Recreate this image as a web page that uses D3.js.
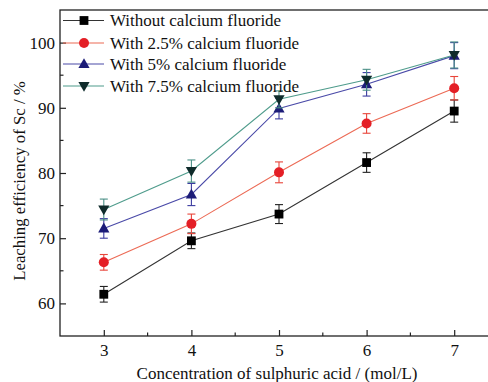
<!DOCTYPE html>
<html>
<head>
<meta charset="utf-8">
<script src="https://cdn.jsdelivr.net/npm/d3@7"></script>
<style>
  html, body { margin: 0; padding: 0; background: #fff; }
  svg { display: block; }
  svg text { font-family: 'Liberation Serif', 'Times New Roman', Times, 'DejaVu Serif', serif !important; }
</style>
</head>
<body>
<svg id="chart" width="488" height="382"></svg>
<script>
// Sulphuric acid concentration (mol/L)
const acid = [3, 4, 5, 6, 7];

// Leaching efficiency of Sc (%) and error half-widths for each CaF2 dosage
const noFluoride      = [61.4, 69.6, 73.7, 81.6, 89.5];
const noFluorideErr   = [1.2, 1.2, 1.45, 1.5, 1.7];
const fluoride25      = [66.3, 72.2, 80.1, 87.6, 93.0];
const fluoride25Err   = [1.2, 1.5, 1.6, 1.5, 1.8];
const fluoride5       = [71.5, 76.7, 89.9, 93.6, 98.0];
const fluoride5Err    = [1.5, 1.7, 1.6, 1.8, 2.0];
const fluoride75      = [74.4, 80.3, 91.3, 94.3, 98.1];
const fluoride75Err   = [1.6, 1.7, 1.3, 1.6, 2.0];

const seriesNames = [
  "Without calcium fluoride",
  "With 2.5% calcium fluoride",
  "With 5% calcium fluoride",
  "With 7.5% calcium fluoride"
];

const xTicks = [3, 4, 5, 6, 7];
const yTicks = [60, 70, 80, 90, 100];

const series = [
  { name: seriesNames[0], values: noFluoride, err: noFluorideErr, line: "#333333", marker: "#000000", errColor: "#222222", shape: "square" },
  { name: seriesNames[1], values: fluoride25, err: fluoride25Err, line: "#ec6a55", marker: "#e41f26", errColor: "#e8453a", shape: "circle" },
  { name: seriesNames[2], values: fluoride5, err: fluoride5Err, line: "#4a4aa8", marker: "#1c1c78", errColor: "#3c3ca0", shape: "triangle" },
  { name: seriesNames[3], values: fluoride75, err: fluoride75Err, line: "#4f9c8c", marker: "#0f2b2b", errColor: "#4a8f86", shape: "triangleDown" }
];

const margin = { left: 60, top: 10 };
const plotW = 438, plotH = 326;

const svg = d3.select("#chart");
const g = svg.append("g").attr("transform", `translate(${margin.left},${margin.top})`);

const x = d3.scaleLinear().domain([2.5, 7.5]).range([0, plotW]);
const y = d3.scaleLinear().domain([55, 105]).range([plotH, 0]);

// Frame
g.append("rect")
  .attr("x", 0).attr("y", 0).attr("width", plotW).attr("height", plotH)
  .attr("fill", "none").attr("stroke", "#222").attr("stroke-width", 1.3);

// Bottom axis: inward major ticks, minor ticks at half units
const xAxis = g.append("g").attr("transform", `translate(0,${plotH})`)
  .call(d3.axisBottom(x).tickValues(xTicks).tickFormat(d3.format("d")).tickSizeInner(-6).tickSizeOuter(0).tickPadding(8));
xAxis.select(".domain").remove();
xAxis.selectAll("line").attr("stroke", "#222").attr("stroke-width", 1.2);
xAxis.selectAll("text").attr("font-size", 17).attr("fill", "#111");
g.append("g").attr("transform", `translate(0,${plotH})`)
  .selectAll("line").data([3.5, 4.5, 5.5, 6.5]).join("line")
  .attr("x1", d => x(d)).attr("x2", d => x(d)).attr("y1", 0).attr("y2", -3.5)
  .attr("stroke", "#222").attr("stroke-width", 1.2);

// Left axis
const yAxis = g.append("g")
  .call(d3.axisLeft(y).tickValues(yTicks).tickFormat(d3.format("d")).tickSizeInner(-6).tickSizeOuter(0).tickPadding(5));
yAxis.select(".domain").remove();
yAxis.selectAll("line").attr("stroke", "#222").attr("stroke-width", 1.2);
yAxis.selectAll("text").attr("font-size", 17).attr("fill", "#111");
g.append("g")
  .selectAll("line").data([65, 75, 85, 95]).join("line")
  .attr("x1", 0).attr("x2", 3.5).attr("y1", d => y(d)).attr("y2", d => y(d))
  .attr("stroke", "#222").attr("stroke-width", 1.2);

// Axis titles
svg.append("text")
  .attr("x", 277).attr("y", 379)
  .attr("text-anchor", "middle")
  .attr("font-size", 17).attr("fill", "#111")
  .text("Concentration of sulphuric acid / (mol/L)");
svg.append("text")
  .attr("transform", "translate(25,181) rotate(-90)")
  .attr("text-anchor", "middle")
  .attr("font-size", 16.8).attr("fill", "#111")
  .text("Leaching efficiency of Sc / %");

// Marker drawing
function drawMarker(sel, shape, color) {
  if (shape === "square") {
    sel.append("rect").attr("x", -4.4).attr("y", -4.4).attr("width", 8.8).attr("height", 8.8).attr("fill", color);
  } else if (shape === "circle") {
    sel.append("circle").attr("r", 5).attr("fill", color);
  } else if (shape === "triangle") {
    sel.append("path").attr("d", "M0,-5.8L5.6,4L-5.6,4Z").attr("fill", color);
  } else {
    sel.append("path").attr("d", "M0,5.8L5.6,-4L-5.6,-4Z").attr("fill", color);
  }
}

const line = d3.line().x(d => x(d[0])).y(d => y(d[1]));

series.forEach(s => {
  const pts = acid.map((a, i) => [a, s.values[i], s.err[i]]);
  const sg = g.append("g");
  sg.append("path").datum(pts)
    .attr("d", line).attr("fill", "none")
    .attr("stroke", s.line).attr("stroke-width", 1.1);

  // Error bars
  const eb = sg.selectAll(".eb").data(pts).join("g").attr("class", "eb");
  eb.append("line")
    .attr("x1", d => x(d[0])).attr("x2", d => x(d[0]))
    .attr("y1", d => y(d[1] - d[2])).attr("y2", d => y(d[1] + d[2]))
    .attr("stroke", s.errColor).attr("stroke-width", 1.1);
  [-1, 1].forEach(sign => {
    eb.append("line")
      .attr("x1", d => x(d[0]) - 4).attr("x2", d => x(d[0]) + 4)
      .attr("y1", d => y(d[1] + sign * d[2])).attr("y2", d => y(d[1] + sign * d[2]))
      .attr("stroke", s.errColor).attr("stroke-width", 1.1);
  });

  sg.selectAll(".mk").data(pts).join("g").attr("class", "mk")
    .attr("transform", d => `translate(${x(d[0])},${y(d[1])})`)
    .each(function () { drawMarker(d3.select(this), s.shape, s.marker); });
});

// Legend inside the top-left corner of the frame
const legendRows = [20.5, 43, 64, 86];
series.forEach((s, i) => {
  const lg = svg.append("g").attr("transform", `translate(0,${legendRows[i]})`);
  lg.append("line").attr("x1", 63).attr("x2", 104).attr("y1", 0).attr("y2", 0)
    .attr("stroke", s.line).attr("stroke-width", 1.1);
  const m = lg.append("g").attr("transform", "translate(84,0)");
  drawMarker(m, s.shape, s.marker);
  lg.append("text").attr("x", 110).attr("y", 5.5)
    .attr("font-size", 17).attr("fill", "#111").text(s.name);
});
</script>
</body>
</html>
